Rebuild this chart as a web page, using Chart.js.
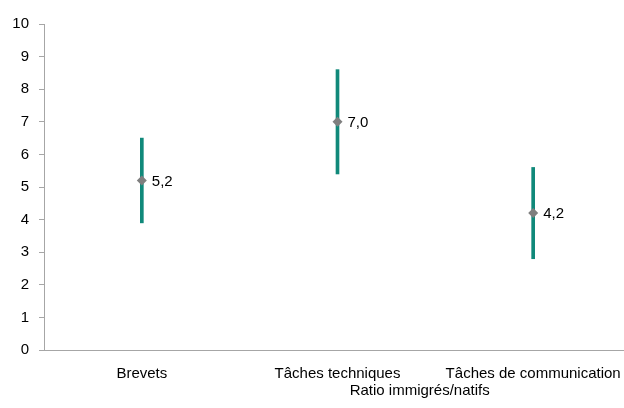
<!DOCTYPE html>
<html>
<head>
<meta charset="utf-8">
<script src="https://cdn.jsdelivr.net/npm/chart.js@4"></script>
<style>
  html, body { margin: 0; padding: 0; background: #fff; overflow: hidden; }
  #wrap { width: 636px; height: 408px; }
</style>
</head>
<body>
<div id="wrap"><canvas id="myChart"></canvas></div>
<script>
const categories = ["Brevets", "Tâches techniques", "Tâches de communication"];
const ratios = [5.2, 7.0, 4.2];
const lowBounds = [3.9, 5.4, 2.8];
const highBounds = [6.5, 8.6, 5.6];
const yTicks = [0, 1, 2, 3, 4, 5, 6, 7, 8, 9, 10];
const xTitle = "Ratio immigrés/natifs";

const FONT = "'Liberation Sans', Arial, sans-serif";
const FSIZE = 15;

// value labels next to the diamonds, like "5,2"
const valueLabels = {
  id: 'valueLabels',
  afterDatasetsDraw(chart) {
    const ctx = chart.ctx;
    const meta = chart.getDatasetMeta(1);
    ctx.save();
    ctx.font = FSIZE + "px " + FONT;
    ctx.fillStyle = "#000";
    ctx.textBaseline = "middle";
    meta.data.forEach((pt, i) => {
      ctx.fillText(ratios[i].toFixed(1).replace('.', ','), pt.x + 10, pt.y + 1);
    });
    ctx.restore();
  }
};

// axis title sits off-centre, under the right half
const axisTitle = {
  id: 'axisTitle',
  afterDraw(chart) {
    const ctx = chart.ctx;
    const a = chart.chartArea;
    ctx.save();
    ctx.font = FSIZE + "px " + FONT;
    ctx.fillStyle = "#000";
    ctx.textAlign = "center";
    ctx.textBaseline = "middle";
    ctx.fillText(xTitle, a.left + (a.right - a.left) * 0.64, 391);
    ctx.restore();
  }
};

new Chart("myChart", {
  data: {
    labels: categories,
    datasets: [
      {
        type: "bar",
        label: "Intervalle",
        data: categories.map((c, i) => [lowBounds[i], highBounds[i]]),
        backgroundColor: "#10897a",
        borderWidth: 0,
        barThickness: 3,
        order: 2
      },
      {
        type: "line",
        label: "Ratio",
        data: ratios,
        showLine: false,
        pointStyle: "rectRot",
        pointRadius: 5,
        pointBackgroundColor: "#7f7f7f",
        pointBorderColor: "#7f7f7f",
        pointBorderWidth: 0,
        order: 1
      }
    ]
  },
  options: {
    responsive: true,
    maintainAspectRatio: false,
    animation: false,
    layout: { padding: { top: 24, right: 0, left: 0, bottom: 0 } },
    plugins: {
      legend: { display: false },
      tooltip: { enabled: false }
    },
    scales: {
      x: {
        grid: { display: false },
        border: { color: "#a6a6a6", width: 1 },
        ticks: { color: "#000", font: { family: FONT, size: FSIZE }, padding: 7, maxRotation: 0, autoSkip: false },
        afterFit(scale) { scale.height = 58; }
      },
      y: {
        min: 0,
        max: 10,
        afterBuildTicks(scale) { scale.ticks = yTicks.map(v => ({ value: v })); },
        grid: { drawOnChartArea: false, color: "#a6a6a6", tickLength: 5 },
        border: { color: "#a6a6a6", width: 1 },
        ticks: { color: "#000", font: { family: FONT, size: FSIZE }, padding: 10 },
        afterFit(scale) { scale.width = 44; }
      }
    }
  },
  plugins: [valueLabels, axisTitle]
});
</script>
</body>
</html>
